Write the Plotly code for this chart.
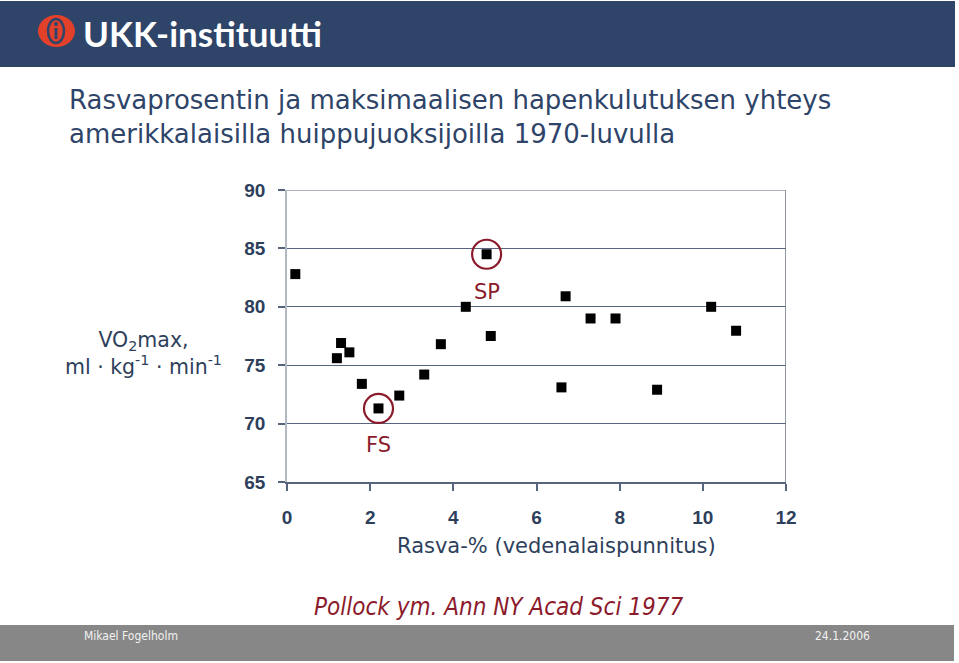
import plotly.graph_objects as go

# ---- data ----
fat_pct = [0.2, 1.2, 1.3, 1.5, 1.8, 2.2, 2.7, 3.3, 3.7, 4.3, 4.8, 4.9,
           6.6, 6.7, 7.3, 7.9, 8.9, 10.2, 10.8]
vo2max = [82.8, 75.6, 76.9, 76.1, 73.4, 71.3, 72.4, 74.2, 76.8, 80.0, 84.5, 77.5,
          73.1, 80.9, 79.0, 79.0, 72.9, 80.0, 77.95]
highlight_names = ["SP", "FS"]
highlight_x = [4.8, 2.2]
highlight_y = [84.5, 71.3]
x_ticks = [0, 2, 4, 6, 8, 10, 12]
y_ticks = [65, 70, 75, 80, 85, 90]

title_lines = ["Rasvaprosentin ja maksimaalisen hapenkulutuksen yhteys",
               "amerikkalaisilla huippujuoksijoilla 1970-luvulla"]
x_title = "Rasva-% (vedenalaispunnitus)"
y_title = "VO<sub>2</sub>max,<br>ml · kg<sup>-1</sup> · min<sup>-1</sup>"
citation = "Pollock ym. Ann NY Acad Sci 1977"
author = "Mikael Fogelholm"
date = "24.1.2006"

W, H = 959, 663
L, R, T, B = 287, 786, 190, 482
NAVY = "#2E4468"
TXT = "#2E3F5C"
DARKRED = "#8B1A2B"
GRID = "#56657D"


def px(x):
    return (x - L) / (R - L)


def py(y):
    return (B - y) / (B - T)


fig = go.Figure()
fig.add_trace(go.Scatter(
    x=fat_pct, y=vo2max, mode="markers",
    marker=dict(symbol="square", size=10, color="black"),
    hoverinfo="x+y", showlegend=False))
fig.add_trace(go.Scatter(
    x=highlight_x, y=highlight_y, mode="markers",
    marker=dict(symbol="circle-open", size=29, color=DARKRED, line=dict(width=2.2, color=DARKRED)),
    hoverinfo="skip", showlegend=False))

shapes = [
    # header band
    dict(type="rect", xref="paper", yref="paper", x0=px(0), x1=px(955), y0=py(67), y1=py(1),
         fillcolor=NAVY, line=dict(width=0), layer="below"),
    # footer band
    dict(type="rect", xref="paper", yref="paper", x0=px(0), x1=px(954), y0=py(661), y1=py(625),
         fillcolor="#878787", line=dict(width=0), layer="below"),
    # logo
    dict(type="circle", xref="paper", yref="paper", x0=px(38), x1=px(75), y0=py(47), y1=py(15),
         fillcolor="#E2402A", line=dict(width=0)),
    dict(type="circle", xref="paper", yref="paper", x0=px(48), x1=px(64), y0=py(43), y1=py(19),
         fillcolor="#E2402A", line=dict(width=2.5, color=NAVY)),
    dict(type="rect", xref="paper", yref="paper", x0=px(54.5), x1=px(57.5), y0=py(39), y1=py(28),
         fillcolor=NAVY, line=dict(width=0)),
    dict(type="circle", xref="paper", yref="paper", x0=px(54), x1=px(58), y0=py(26), y1=py(22),
         fillcolor=NAVY, line=dict(width=0)),
    # top gridline at the range maximum
    dict(type="line", xref="x", yref="y", x0=x_ticks[0], x1=x_ticks[-1], y0=y_ticks[-1], y1=y_ticks[-1],
         line=dict(color=GRID, width=1.2)),
    # right border of plot
    dict(type="line", xref="x", yref="y", x0=x_ticks[-1], x1=x_ticks[-1], y0=y_ticks[0], y1=y_ticks[-1],
         line=dict(color="#6B7383", width=1.5)),
]

annotations = [
    dict(text="UKK-instituutti", xref="paper", yref="paper", x=px(81), y=py(33),
         xanchor="left", yanchor="middle", showarrow=False,
         font=dict(family="Lato", size=35, color="white", weight="bold")),
    dict(text=title_lines[0], xref="paper", yref="paper", x=px(67), y=py(100),
         xanchor="left", yanchor="middle", showarrow=False,
         font=dict(family="DejaVu Sans", size=26, color=NAVY)),
    dict(text=title_lines[1], xref="paper", yref="paper", x=px(67), y=py(134),
         xanchor="left", yanchor="middle", showarrow=False,
         font=dict(family="DejaVu Sans", size=26, color=NAVY)),
    dict(text=y_title, xref="paper", yref="paper", x=px(143), y=py(353),
         xanchor="center", yanchor="middle", showarrow=False, align="center",
         font=dict(family="DejaVu Sans", size=20.5, color=TXT)),
    dict(text=x_title, xref="paper", yref="paper", x=px(556), y=py(546),
         xanchor="center", yanchor="middle", showarrow=False,
         font=dict(family="DejaVu Sans", size=21, color=TXT)),
    dict(text=highlight_names[0], x=highlight_x[0], y=highlight_y[0], xref="x", yref="y",
         yshift=-38, showarrow=False, font=dict(family="DejaVu Sans", size=21, color=DARKRED)),
    dict(text=highlight_names[1], x=highlight_x[1], y=highlight_y[1], xref="x", yref="y",
         yshift=-37, showarrow=False, font=dict(family="DejaVu Sans", size=21, color=DARKRED)),
    dict(text="<i>" + citation + "</i>", xref="paper", yref="paper", x=px(498), y=py(607),
         xanchor="center", yanchor="middle", showarrow=False,
         font=dict(family="DejaVu Sans Condensed, DejaVu Sans", size=24, color=DARKRED)),
    dict(text=author, xref="paper", yref="paper", x=px(82), y=py(636),
         xanchor="left", yanchor="middle", showarrow=False,
         font=dict(family="DejaVu Sans Condensed, DejaVu Sans", size=12, color="#F2F2F2")),
    dict(text=date, xref="paper", yref="paper", x=px(872), y=py(636),
         xanchor="right", yanchor="middle", showarrow=False,
         font=dict(family="DejaVu Sans Condensed, DejaVu Sans", size=12, color="#F2F2F2")),
]

fig.update_layout(
    width=W, height=H,
    margin=dict(l=L, r=W - R, t=T, b=H - B, pad=0),
    paper_bgcolor="white", plot_bgcolor="white",
    shapes=shapes, annotations=annotations,
    showlegend=False,
    xaxis=dict(range=[x_ticks[0], x_ticks[-1]], tickvals=x_ticks, showgrid=False, zeroline=False,
               showline=True, linecolor=GRID, linewidth=1.5,
               ticks="outside", ticklen=7, tickcolor=GRID, tickwidth=1.5,
               ticklabelstandoff=10,
               tickfont=dict(family="Liberation Sans", size=19, color=TXT, weight="bold")),
    yaxis=dict(range=[y_ticks[0], y_ticks[-1]], tickvals=y_ticks, showgrid=True, gridcolor=GRID,
               gridwidth=1.2, zeroline=False,
               showline=True, linecolor="#B4BAC4", linewidth=1.5,
               ticks="outside", ticklen=7, tickcolor=GRID, tickwidth=1.5,
               ticklabelstandoff=9,
               tickfont=dict(family="Liberation Sans", size=19, color=TXT, weight="bold")),
)

fig.write_html("out.html")
